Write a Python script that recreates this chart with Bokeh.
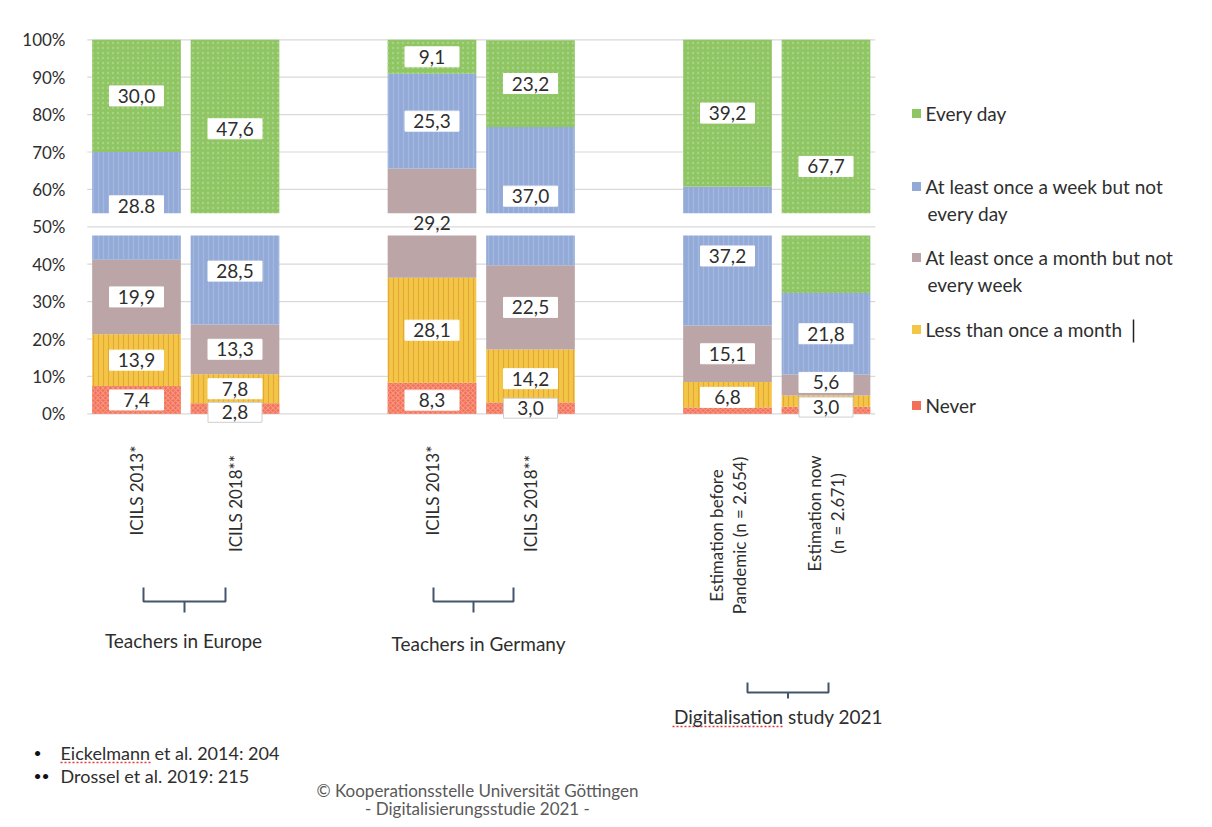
import math
from bokeh.plotting import figure
from bokeh.layouts import column, row
from bokeh.models import Range1d, FixedTicker, Label, ColumnDataSource
from bokeh.core.properties import value
from bokeh.embed import file_html
from bokeh.resources import INLINE

# ---------------- data ----------------
groups = ["Teachers in Europe", "Teachers in Germany", "Digitalisation study 2021"]
categories = [
    ["ICILS 2013*"], ["ICILS 2018**"],
    ["ICILS 2013*"], ["ICILS 2018**"],
    ["Estimation before", "Pandemic (n = 2.654)"],
    ["Estimation now", "(n = 2.671)"],
]
bar_group = [0, 0, 1, 1, 2, 2]

series_keys = ["never", "less", "month", "week", "daily"]
legend_labels = [
    ["Never"],
    ["Less than once a month"],
    ["At least once a month but not", "every week"],
    ["At least once a week but not", "every day"],
    ["Every day"],
]
never = [7.4, 2.8, 8.3, 3.0, 1.7, 1.9]
less = [13.9, 7.8, 28.1, 14.2, 6.8, 3.0]
month = [19.9, 13.3, 29.2, 22.5, 15.1, 5.6]
week = [28.8, 28.5, 25.3, 37.0, 37.2, 21.8]
daily = [30.0, 47.6, 9.1, 23.2, 39.2, 67.7]

y_ticks = [0, 10, 20, 30, 40, 50, 60, 70, 80, 90, 100]
tick_labels = ["0%", "10%", "20%", "30%", "40%", "50%", "60%", "70%", "80%", "90%", "100%"]

footnote_marks = ["\u2022", "\u2022\u2022"]
footnotes = ["Eickelmann et al. 2014: 204", "Drossel et al. 2019: 215"]
credit = ["\u00a9 Kooperationsstelle Universit\u00e4t G\u00f6ttingen", "- Digitalisierungsstudie 2021 -"]

# ---------------- style ----------------
FONT = "Lato"
TXT = "#2e2e2e"
colors = ["#f2705a", "#f4c646", "#bba5a6", "#93a9d7", "#8fc563"]
hatch_patterns = ["x", "|", " ", "|", "."]
hatch_colors = ["#f89a84", "#e2a437", "#bba5a6", "#a5b9e0", "#a9d589"]

# canvas-pixel geometry helpers (layout only)
PX0, UX = 136.0, 98.5      # x of first bar centre, pixels per slot
PY0, UY = 413.3, 3.74      # y of 0 %, pixels per percent


def dx(px):
    return (px - PX0) / UX


def dy(py):
    return (PY0 - py) / UY


W = 1196
H1, H2 = 737, 84
LEFT, TOP = 72, 14
p = figure(width=W, height=H1, output_backend="svg", toolbar_location=None,
           x_range=Range1d(dx(LEFT), dx(W)), y_range=Range1d(dy(H1), dy(TOP)),
           x_axis_location=None, min_border_left=LEFT, min_border_right=0,
           min_border_top=TOP, min_border_bottom=0)
p.outline_line_color = None
p.xgrid.visible = False
p.ygrid.visible = False
p.background_fill_color = "white"
p.border_fill_color = "white"

ax = p.yaxis[0]
ax.ticker = FixedTicker(ticks=y_ticks)
ax.bounds = (0, 100)
ax.major_label_overrides = {t: s for t, s in zip(y_ticks, tick_labels)}
ax.axis_line_color = None
ax.major_tick_line_color = None
ax.minor_tick_line_color = None
ax.major_tick_out = 0
ax.major_label_standoff = 7
ax.major_label_text_font = FONT
ax.major_label_text_font_size = "17px"
ax.major_label_text_color = TXT

# x positions: two bars per group, one empty slot between groups
xpos = [g * 3 + (i % 2) for i, g in enumerate(bar_group)]
XL, XR = min(xpos) - 0.5, max(xpos) + 0.5

# gridlines
p.segment(x0=[XL] * len(y_ticks), x1=[XR] * len(y_ticks), y0=y_ticks, y1=y_ticks,
          line_color="#d9d9d9", line_width=1.2)

data = dict(x=xpos, never=never, less=less, month=month, week=week, daily=daily)
src = ColumnDataSource(data)
p.vbar_stack(series_keys, x="x", width=0.9, source=src, color=colors,
             line_color=None, hatch_pattern=hatch_patterns, hatch_color=hatch_colors,
             hatch_scale=5, hatch_weight=1.2, hatch_alpha=0.9)

# white gap cut through the chart, with the 50 % line visible in it
GAP = (47.7, 53.6)
p.quad(left=[XL - 0.05], right=[XR + 0.05], bottom=[GAP[0]], top=[GAP[1]],
       fill_color="white", line_color=None)
p.segment(x0=[XL], x1=[XR], y0=[50], y1=[50], line_color="#d9d9d9", line_width=1.2)

# data labels
hidden = {("never", 4), ("never", 5)}
override = {("week", 0): "28.8"}
offset = {("never", 1): -1.0, ("less", 3): -0.7, ("less", 4): -0.7,
          ("less", 5): -1.6, ("month", 5): 0.7, ("never", 2): -0.5}
framed = {("never", 1), ("never", 3), ("less", 5)}
lx, ly, lt, bx, by, bc = [], [], [], [], [], []
bottom = [0.0] * len(xpos)
for key in series_keys:
    vals = data[key]
    for i, v in enumerate(vals):
        c = bottom[i] + v / 2 + offset.get((key, i), 0.0)
        bottom[i] += v
        if (key, i) in hidden:
            continue
        s = override.get((key, i), f"{v:.1f}".replace(".", ","))
        lx.append(xpos[i]); ly.append(c); lt.append(s)
        if not (key == "month" and i == 2):
            bx.append(xpos[i]); by.append(c)
            bc.append("#cfcfcf" if (key, i) in framed else "white")
p.rect(x=bx, y=by, width=54, height=20, width_units="screen", height_units="screen",
       fill_color="white", line_color=bc, line_width=1)
p.text(x=lx, y=ly, text=lt, text_font=value(FONT), text_font_size="19px",
       text_color=TXT, text_align="center", text_baseline="middle")

# legend (drawn manually: entries are spread over the height)
leg_y = [405, 329, 257, 186, 113]   # y of each entry's first line
for k in range(len(series_keys)):
    p.scatter(x=[dx(916)], y=[dy(leg_y[k])], marker="square", size=9,
              fill_color=colors[k], line_color=None)
    for j, line in enumerate(legend_labels[k]):
        p.add_layout(Label(x=dx(925 + 2 * j), y=dy(leg_y[k] + 27 * j), text=line,
                           text_font=FONT, text_font_size="19px", text_color=TXT,
                           text_align="left", text_baseline="middle"))
# text cursor artefact
p.segment(x0=[dx(1133)], x1=[dx(1133)], y0=[dy(319)], y1=[dy(342)],
          line_color="#222222", line_width=1.5)

# rotated category labels
cat_center_y = [490, 503, 490, 503, 535, 513]
for i, lines in enumerate(categories):
    n = len(lines)
    for j, line in enumerate(lines):
        xo = (j - (n - 1) / 2) * 23
        p.add_layout(Label(x=xpos[i] + xo / UX, y=dy(cat_center_y[i]),
                           text=line, angle=math.pi / 2, text_font=FONT,
                           text_font_size="17px", text_color=TXT,
                           text_align="center", text_baseline="middle"))

# group brackets and labels
brackets = [(143, 225, 587, 601, 612), (433, 513, 587, 601, 612), (747, 828, 682, 692, 698)]
grp_label_xy = [(183, 640), (478, 643), (778, 716)]
for g, (l, r, t, m, b) in enumerate(brackets):
    mid = (l + r) / 2
    p.multi_line(xs=[[dx(l), dx(l), dx(r), dx(r)], [dx(mid), dx(mid)]],
                 ys=[[dy(t), dy(m), dy(m), dy(t)], [dy(m), dy(b)]],
                 line_color="#44546a", line_width=2)
    gx, gy = grp_label_xy[g]
    p.add_layout(Label(x=dx(gx), y=dy(gy), text=groups[g], text_font=FONT,
                       text_font_size="19px", text_color=TXT,
                       text_align="center", text_baseline="middle"))
# spell-check underline under "Digitalisation"
p.segment(x0=[dx(672)], x1=[dx(783)], y0=[dy(726)], y1=[dy(726)],
          line_color="#e03a3a", line_width=1.5, line_dash="2 2")

# ---------------- footer (separate strip so that nothing is clipped) ----------------
f = figure(width=W, height=H2, output_backend="svg", toolbar_location=None,
           x_range=Range1d(0, W), y_range=Range1d(H1 + H2, H1),
           x_axis_location=None, y_axis_location=None,
           min_border_left=0, min_border_right=0, min_border_top=0, min_border_bottom=0)
f.outline_line_color = None
f.xgrid.visible = False
f.ygrid.visible = False
for j, (m, s) in enumerate(zip(footnote_marks, footnotes)):
    fy = 752 + 23 * j
    f.add_layout(Label(x=33, y=fy, text=m, text_font=FONT, text_font_size="14px",
                       text_color="#111111", text_align="left", text_baseline="middle"))
    f.add_layout(Label(x=60, y=fy, text=s, text_font=FONT, text_font_size="18px",
                       text_color=TXT, text_align="left", text_baseline="middle"))
f.segment(x0=[60], x1=[152], y0=[762], y1=[762], line_color="#e03a3a",
          line_width=1.5, line_dash="2 2")
for j, s in enumerate(credit):
    f.add_layout(Label(x=477, y=790 + 18 * j, text=s, text_font=FONT,
                       text_font_size="17px", text_color="#595959",
                       text_align="center", text_baseline="middle"))

layout = column(p, row(f, spacing=0), spacing=0)
open("out.html", "w").write(file_html(layout, INLINE))
